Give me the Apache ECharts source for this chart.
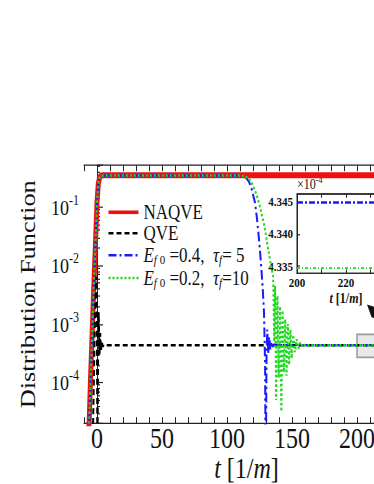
<!DOCTYPE html>
<html>
<head>
<meta charset="utf-8">
<script src="https://cdn.jsdelivr.net/npm/echarts@6/dist/echarts.min.js"></script>
<style>
  html, body { margin: 0; padding: 0; background: #fff; }
  #wrap { width: 374px; height: 484px; overflow: hidden; }
  /* the reference is stretched vertically, so the chart is drawn shorter and scaled */
  #chart { width: 374px; height: 403px; transform: scaleY(1.201); transform-origin: 0 0; }
</style>
</head>
<body>
<div id="wrap"><div id="chart"></div></div>
<script>
const serif = 'Liberation Serif'

const seriesNames = ['NAQVE', 'QVE', 'Ef0=0.4', 'Ef0=0.2']
const legendText = [
  'NAQVE',
  'QVE',
  '{i|E}{si|f}{sub| 0} =0.4,  {i|τ}{si|f}= 5',
  '{i|E}{si|f}{sub| 0} =0.2,  {i|τ}{si|f}=10'
]

// main panel, t in 1/m
const naqveT = [-10, -7, -6, -5, -4, -3, -2, -1, 0, 1, 2, 3, 5, 240]
const naqveV = [1e-7, 8e-6, 2.2e-5, 1.1e-4, 4.7e-4, 2e-3, 8e-3, 0.03, 0.12, 0.25, 0.32, 0.345, 0.35, 0.35]

const qveT = [-10, -3.5, -3, -2, -1.2, -0.6, -0.1, 0.3, 0.8, 1.3, 1.9, 2.5, 3.1, 3.7, 4.4, 5.3, 6.5, 240]
const qveV = [1e-7, 5e-6, 2e-5, 4e-4, 3e-3, 6.5e-3, 1.5e-3, 5e-6, 2e-4, 1.6e-3, 3e-4, 7e-4, 3.6e-4, 5e-4, 4.1e-4, 4.4e-4, 4.34e-4, 4.34e-4]

const blueT = [-10, -7, -6, -5, -4, -3, -2, -1, 0, 1, 2, 3, 5,
  110, 114, 117, 119, 121.5, 123, 124.5, 126, 127.5, 128.5,
  129.3, 129.8, 130.4, 131, 131.7, 132.5, 133.3, 134.2, 135.2, 136.5, 138, 140, 240]
const blueV = [1e-7, 7e-6, 2e-5, 1e-4, 4.5e-4, 1.9e-3, 7.8e-3, 0.029, 0.115, 0.245, 0.315, 0.34, 0.345,
  0.345, 0.33, 0.27, 0.2, 0.12, 0.065, 0.03, 0.012, 4e-3, 1.5e-3,
  2e-4, 1e-6, 3e-4, 8e-4, 3.2e-4, 6e-4, 3.7e-4, 5e-4, 4.1e-4, 4.5e-4, 4.3e-4, 4.3449e-4, 4.3449e-4]

const greenT = [-10, -7, -6, -5, -4, -3, -2, -1, 0, 1, 2, 3, 5,
  110, 114, 117, 119, 122, 125, 127, 129, 131.5, 133.5,
  135.5, 136.3, 137, 137.8, 138.8, 139.8, 140.8, 141.8, 142.8, 143.8,
  144.8, 145.8, 146.8, 147.8, 148.8, 149.8, 151, 152.2, 153.5, 155,
  156.5, 158, 160, 162, 240]
const greenV = [1e-7, 7.5e-6, 2.1e-5, 1.05e-4, 4.6e-4, 1.95e-3, 7.9e-3, 0.03, 0.118, 0.248, 0.318, 0.342, 0.345,
  0.345, 0.335, 0.3, 0.26, 0.18, 0.11, 0.07, 0.045, 0.02, 0.011,
  6.5e-3, 5e-4, 4.5e-3, 5e-5, 3e-3, 1.2e-4, 2e-3, 3.2e-5, 1.7e-3, 1.5e-4,
  1.2e-3, 1.3e-4, 1e-3, 2e-4, 8e-4, 2.6e-4, 6.5e-4, 3.3e-4, 5.5e-4, 3.8e-4,
  4.9e-4, 4.1e-4, 4.4e-4, 4.3347e-4, 4.3347e-4]

// zoomed box (values in units of 1e-4)
const insetT = [200, 240]
const insetBlue = [4.3449, 4.3449]
const insetGreen = [4.3347, 4.3347]
const boxT = [200, 240]
const boxV = [2.68e-4, 6.65e-4]

// tick labels
const xTickLabels = [0, 50, 100, 150, 200]
const yTickExp = [-4, -3, -2, -1]
const insetXLabels = [200, 220]
const insetYLabels = [4.335, 4.340, 4.345]

const zip = (a, b) => a.map((t, i) => [t, b[i]])

const colors = ['#f01010', '#000000', '#1a1aff', '#1ed81e']

const myChart = echarts.init(document.getElementById('chart'), null, { renderer: 'svg' })

const tickStyle = { color: '#222', width: 1 }

const option = {
  animation: false,
  backgroundColor: '#fff',
  grid: [
    { left: 84, top: 137.5, width: 325, height: 215, outerBoundsMode: 'none', containLabel: false },
    { left: 297, top: 161.7, width: 98, height: 65.8, outerBoundsMode: 'none', containLabel: false,
      show: true, backgroundColor: '#fff', borderColor: '#222', borderWidth: 1 }
  ],
  legend: {
    orient: 'vertical',
    left: 107,
    top: 168,
    itemGap: 0,
    itemWidth: 30,
    itemHeight: 12,
    padding: 0,
    itemStyle: { color: 'transparent', borderWidth: 0, opacity: 0 },
    data: seriesNames.map((n, i) => ({ name: n, lineStyle: i === 0 ? { width: 3 } : undefined })),
    formatter: name => legendText[seriesNames.indexOf(name)],
    textStyle: {
      fontFamily: serif, fontSize: 17, color: '#111', lineHeight: 17.5,
      rich: {
        i: { fontFamily: serif, fontSize: 17, fontStyle: 'italic', lineHeight: 17.5 },
        si: { fontFamily: serif, fontSize: 11, fontStyle: 'italic', padding: [8, 0, 0, 0], lineHeight: 17.5 },
        sub: { fontFamily: serif, fontSize: 11, padding: [8, 0, 0, 0], lineHeight: 17.5 }
      }
    }
  },
  xAxis: [
    {
      gridIndex: 0, type: 'value', position: 'bottom', min: -10, max: 240, interval: 10,
      axisLine: { onZero: false, lineStyle: tickStyle },
      axisTick: { inside: true, length: 5, lineStyle: tickStyle },
      splitLine: { show: false },
      axisLabel: {
        margin: 2, fontFamily: serif, fontSize: 24, lineHeight: 20, color: '#111',
        formatter: v => xTickLabels.includes(v) ? String(v) : ''
      },
      name: '{i|t} [1/{i|m}]', nameLocation: 'middle', nameGap: 25, nameMoveOverlap: false,
      nameTextStyle: { fontFamily: serif, fontSize: 24, lineHeight: 24, color: '#111',
        rich: { i: { fontFamily: serif, fontSize: 24, lineHeight: 24, fontStyle: 'italic' } } }
    },
    {
      gridIndex: 0, type: 'value', position: 'top', min: -10, max: 240, interval: 10,
      axisLine: { onZero: false, lineStyle: tickStyle },
      axisTick: { inside: true, length: 5, lineStyle: tickStyle },
      splitLine: { show: false },
      axisLabel: { show: false }
    },
    {
      gridIndex: 1, type: 'value', position: 'bottom', min: 200, max: 240, interval: 10,
      axisLine: { onZero: false, lineStyle: tickStyle },
      axisTick: { inside: true, length: 3, lineStyle: tickStyle },
      splitLine: { show: false },
      axisLabel: {
        margin: 2, fontFamily: serif, fontSize: 11, fontWeight: 'bold', color: '#111',
        formatter: v => insetXLabels.includes(v) ? String(v) : ''
      },
      name: '{i|t} [1/{i|m}]', nameLocation: 'middle', nameGap: 15,
      nameTextStyle: { fontFamily: serif, fontSize: 12, fontWeight: 'bold', color: '#111',
        rich: { i: { fontFamily: serif, fontSize: 12, fontWeight: 'bold', fontStyle: 'italic' } } }
    },
    {
      gridIndex: 1, type: 'value', position: 'top', min: 200, max: 240, interval: 10,
      axisLine: { onZero: false, lineStyle: tickStyle },
      axisTick: { inside: true, length: 3, lineStyle: tickStyle },
      splitLine: { show: false },
      axisLabel: { show: false }
    }
  ],
  yAxis: [
    {
      gridIndex: 0, type: 'log', logBase: 10, min: 2e-5, max: 0.52,
      axisLine: { show: true, lineStyle: tickStyle },
      axisTick: { show: true, inside: true, length: 6, lineStyle: tickStyle },
      minorTick: { show: true, splitNumber: 9, length: 3, lineStyle: tickStyle },
      splitLine: { show: false },
      axisLabel: {
        margin: 5, color: '#111', showMinLabel: false, showMaxLabel: false,
        formatter: v => {
          const e = Math.round(Math.log10(v))
          if (Math.abs(Math.log10(v) - e) > 1e-6 || !yTickExp.includes(e)) return ''
          return '{b|10}{s|' + e + '}'
        },
        rich: {
          b: { fontFamily: serif, fontSize: 18, color: '#111' },
          s: { fontFamily: serif, fontSize: 12, color: '#111', padding: [0, 0, 12, 0] }
        }
      },
      name: 'Distribution Function', nameLocation: 'middle', nameGap: 46,
      nameTextStyle: { fontFamily: serif, fontSize: 22, color: '#111' }
    },
    {
      gridIndex: 1, type: 'value', min: 4.3339, max: 4.3462, splitNumber: 2,
      axisLine: { show: true, lineStyle: tickStyle },
      axisTick: { show: true, inside: true, length: 3, lineStyle: tickStyle },
      splitLine: { show: false },
      axisLabel: {
        margin: 4, fontFamily: serif, fontSize: 11, fontWeight: 'bold', color: '#111',
        showMinLabel: false, showMaxLabel: false,
        formatter: v => {
          const hit = insetYLabels.find(l => Math.abs(l - v) < 1e-6)
          return hit === undefined ? '' : hit.toFixed(3)
        }
      },
      name: '×10{s|-4}', nameLocation: 'end', nameGap: 1,
      nameTextStyle: { fontFamily: serif, fontSize: 12, color: '#111', align: 'left',
        rich: { s: { fontFamily: serif, fontSize: 8, color: '#111', padding: [0, 0, 7, 0] } } }
    }
  ],
  series: [
    {
      name: seriesNames[0], type: 'line', xAxisIndex: 0, yAxisIndex: 0, symbol: 'none',
      lineStyle: { color: colors[0], width: 5 }, itemStyle: { color: colors[0] },
      data: zip(naqveT, naqveV)
    },
    {
      name: seriesNames[1], type: 'line', xAxisIndex: 0, yAxisIndex: 0, symbol: 'none', z: 3,
      lineStyle: { color: colors[1], width: 2, type: [5, 3] }, itemStyle: { color: colors[1] },
      data: zip(qveT, qveV),
      markArea: {
        silent: true,
        itemStyle: { color: '#e8e8e8', borderColor: '#9a9a9a', borderWidth: 1.5 },
        data: [[{ xAxis: boxT[0], yAxis: boxV[0] }, { xAxis: boxT[1], yAxis: boxV[1] }]]
      }
    },
    {
      name: seriesNames[2], type: 'line', xAxisIndex: 0, yAxisIndex: 0, symbol: 'none',
      lineStyle: { color: colors[2], width: 2, type: [8, 3, 2, 3] }, itemStyle: { color: colors[2] },
      data: zip(blueT, blueV)
    },
    {
      name: seriesNames[3], type: 'line', xAxisIndex: 0, yAxisIndex: 0, symbol: 'none',
      lineStyle: { color: colors[3], width: 2, type: [2, 2] }, itemStyle: { color: colors[3] },
      data: zip(greenT, greenV)
    },
    {
      type: 'line', xAxisIndex: 2, yAxisIndex: 1, symbol: 'none', silent: true,
      lineStyle: { color: colors[2], width: 2, type: [6, 2, 2, 2] },
      data: zip(insetT, insetBlue)
    },
    {
      type: 'line', xAxisIndex: 2, yAxisIndex: 1, symbol: 'none', silent: true,
      lineStyle: { color: colors[3], width: 1.5, type: [3, 2, 1, 2] },
      data: zip(insetT, insetGreen)
    }
  ],
  graphic: [
    {
      type: 'polygon', z: 100, silent: true,
      shape: { points: [[367, 253.5], [374, 255.5], [374, 265], [371.5, 264]] },
      style: { fill: '#111' }
    }
  ]
}

myChart.setOption(option)
</script>
</body>
</html>
